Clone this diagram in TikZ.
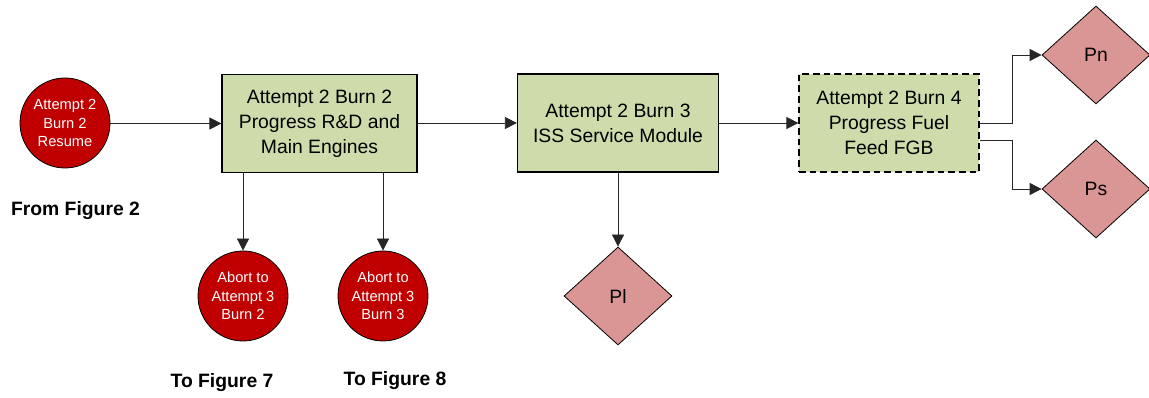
\documentclass[tikz,border=0pt]{standalone}
\usepackage{fontspec}
\setmainfont{Liberation Sans}
\usetikzlibrary{shapes.geometric,arrows.meta}

\definecolor{abortred}{RGB}{192,0,0}
\definecolor{burngreen}{RGB}{205,220,170}
\definecolor{pinkdiam}{RGB}{218,150,148}

\tikzset{
	redcirc/.style={circle, draw=black, line width=0.6pt, fill=abortred, text=white, minimum size=67.5pt, inner sep=0pt, align=center, font=\fontsize{11}{13.9}\selectfont},
	burnbox/.style={rectangle, draw=black, line width=0.9pt, fill=burngreen, minimum height=73.5pt, inner sep=2pt, align=center, font=\fontsize{14.5}{18.75}\selectfont},
	pdiam/.style={diamond, draw=black, line width=0.6pt, fill=pinkdiam, minimum width=81pt, minimum height=73.5pt, inner sep=0pt, font=\fontsize{14.5}{18.75}\selectfont},
	figlbl/.style={font=\fontsize{14.5}{17}\selectfont\bfseries},
	conn/.style={draw=black!85, line width=0.6pt, -{Triangle[length=9pt,width=9pt]}}
}

\begin{document}
\begin{tikzpicture}[x=0.75pt,y=0.75pt,yscale=-1,xscale=1]
	\useasboundingbox (0,0) rectangle (1149,398);

	% Circles
	\node [redcirc] (resume) at (65,123) {Attempt 2\\Burn 2\\Resume};
	\node [redcirc] (abtb2) at (243,296) {Abort to\\Attempt 3\\Burn 2};
	\node [redcirc] (abtb3) at (383,296) {Abort to\\Attempt 3\\Burn 3};

	% Boxes
	\node [burnbox, minimum width=146.25pt] (burn2) at (319.5,123.5) {Attempt 2 Burn 2\\Progress R\&D and\\Main Engines};
	\node [burnbox, minimum width=150.75pt] (burn3) at (618,123) {Attempt 2 Burn 3\\ISS Service Module};
	\node [burnbox, minimum width=135pt, dashed, dash pattern=on 5pt off 3pt] (burn4) at (889,123) {Attempt 2 Burn 4\\Progress Fuel\\Feed FGB};

	% Diamonds
	\node [pdiam] (pl) at (618,296) {Pl};
	\node [pdiam] (pn) at (1096,55) {Pn};
	\node [pdiam] (ps) at (1096,189) {Ps};

	% Text Node
	\node [figlbl] (from2) at (75.5,211) {From Figure 2};
	\node [figlbl] (to7) at (222,383) {To Figure 7};
	\node [figlbl] (to8) at (395,381) {To Figure 8};

	% Connection
	\draw [conn] (resume.east |- burn2.west) -- (burn2.west);
	\draw [conn] (burn2.east |- burn3.west) -- (burn3.west);
	\draw [conn] (burn3.east) -- (burn4.west);
	\draw [conn] (burn2.south -| abtb2) -- (abtb2.north);
	\draw [conn] (burn2.south -| abtb3) -- (abtb3.north);
	\draw [conn] (burn3.south) -- (pl.north);
	\draw [conn] (burn4.east) -- ++(33,0) |- (pn.west);
	\draw [conn] ([yshift=12.75pt]burn4.east) -- ++(33,0) |- (ps.west);

\end{tikzpicture}
\end{document}
